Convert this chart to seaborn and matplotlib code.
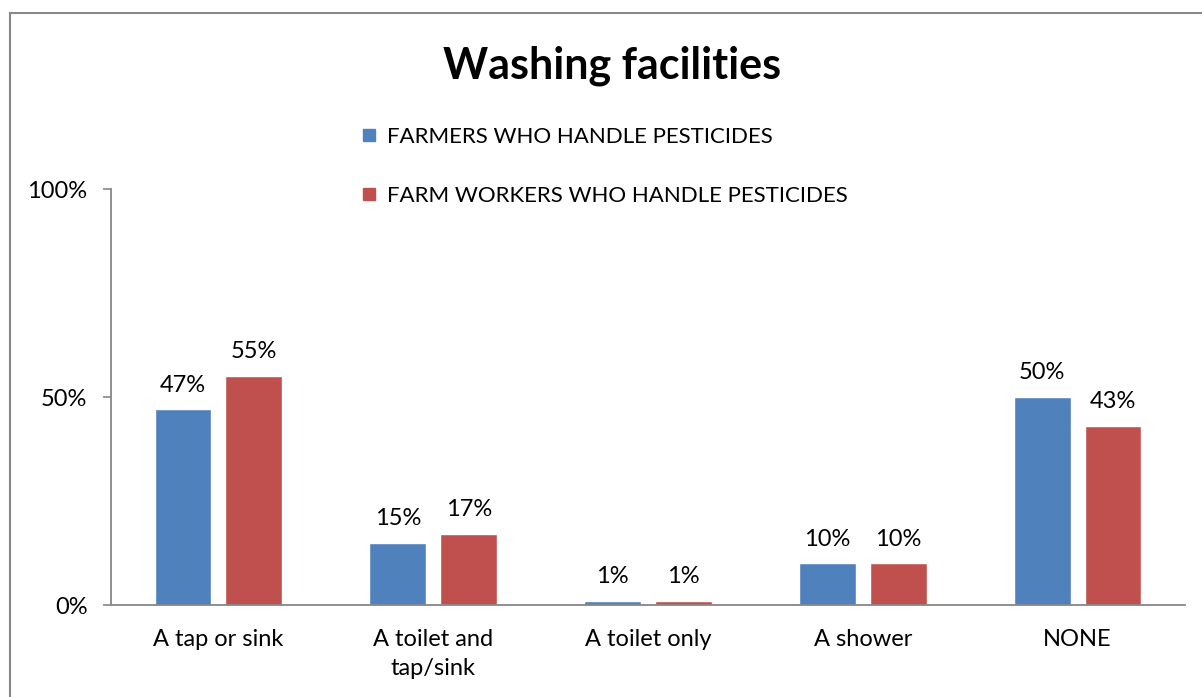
import matplotlib
matplotlib.use("Agg")
import matplotlib.pyplot as plt
from matplotlib.lines import Line2D
from matplotlib.patches import Rectangle
import seaborn as sns
import pandas as pd

categories = ["A tap or sink", "A toilet and\ntap/sink", "A toilet only", "A shower", "NONE"]
series_names = ["FARMERS WHO HANDLE PESTICIDES", "FARM WORKERS WHO HANDLE PESTICIDES"]
farmers = [47, 15, 1, 10, 50]
farm_workers = [55, 17, 1, 10, 43]
y_ticks = [0, 50, 100]
y_tick_labels = ["0%", "50%", "100%"]
colors = ["#4F81BD", "#C0504D"]

df = pd.DataFrame({
    "category": categories * 2,
    "series": [series_names[0]] * len(categories) + [series_names[1]] * len(categories),
    "value": farmers + farm_workers,
})

sns.set_theme(style="white")
plt.rcParams["font.family"] = ["Lato", "DejaVu Sans"]
plt.rcParams["text.color"] = "black"
plt.rcParams["xtick.color"] = "black"
plt.rcParams["ytick.color"] = "black"

fig = plt.figure(figsize=(12.02, 6.97), dpi=100)
ax = fig.add_axes([111 / 1202, 92 / 697, (1185 - 111) / 1202, (605 - 189) / 697])

sns.barplot(data=df, x="category", y="value", hue="series", order=categories,
            hue_order=series_names, palette=colors, width=0.66, gap=0.2,
            saturation=1, ax=ax, legend=False)

for container in ax.containers:
    ax.bar_label(container, labels=[f"{v:.0f}%" for v in container.datavalues],
                 padding=10, fontsize=17, color="black")

ax.set_ylim(0, 100)
ax.set_xlim(-0.5, len(categories) - 0.5)
ax.set_yticks(y_ticks)
ax.set_yticklabels(y_tick_labels, fontsize=17)
ax.tick_params(axis="y", direction="out", length=6, width=1.2, color="#868686",
               labelcolor="black", pad=11, left=True)
ax.tick_params(axis="x", length=0, pad=17, labelsize=17, labelcolor="black")
for lbl in ax.get_xticklabels():
    lbl.set_linespacing(1.5)
ax.set_xlabel("")
ax.set_ylabel("")
for side in ["top", "right"]:
    ax.spines[side].set_visible(False)
for side in ["left", "bottom"]:
    ax.spines[side].set_color("#868686")
    ax.spines[side].set_linewidth(1.3)

fig.text(612 / 1202, 1 - 66 / 697, "Washing facilities", ha="center", va="center",
         fontsize=31, fontweight="bold", color="black")

handles = [Line2D([], [], marker="s", linestyle="", markersize=9,
                  markerfacecolor=c, markeredgecolor=c) for c in colors]
fig.legend(handles, series_names, loc="upper left", bbox_to_anchor=(351 / 1202, 1 - 118 / 697),
           frameon=False, fontsize=16, handlelength=0.8, handletextpad=0.4,
           labelspacing=1.75, borderaxespad=0)

fig.add_artist(Rectangle((10 / 1202, -0.05), 1.1, 1 - 13 / 697 + 0.05,
                         transform=fig.transFigure, fill=False,
                         edgecolor="#888888", linewidth=1.5))

fig.savefig("out.png", dpi=100)
